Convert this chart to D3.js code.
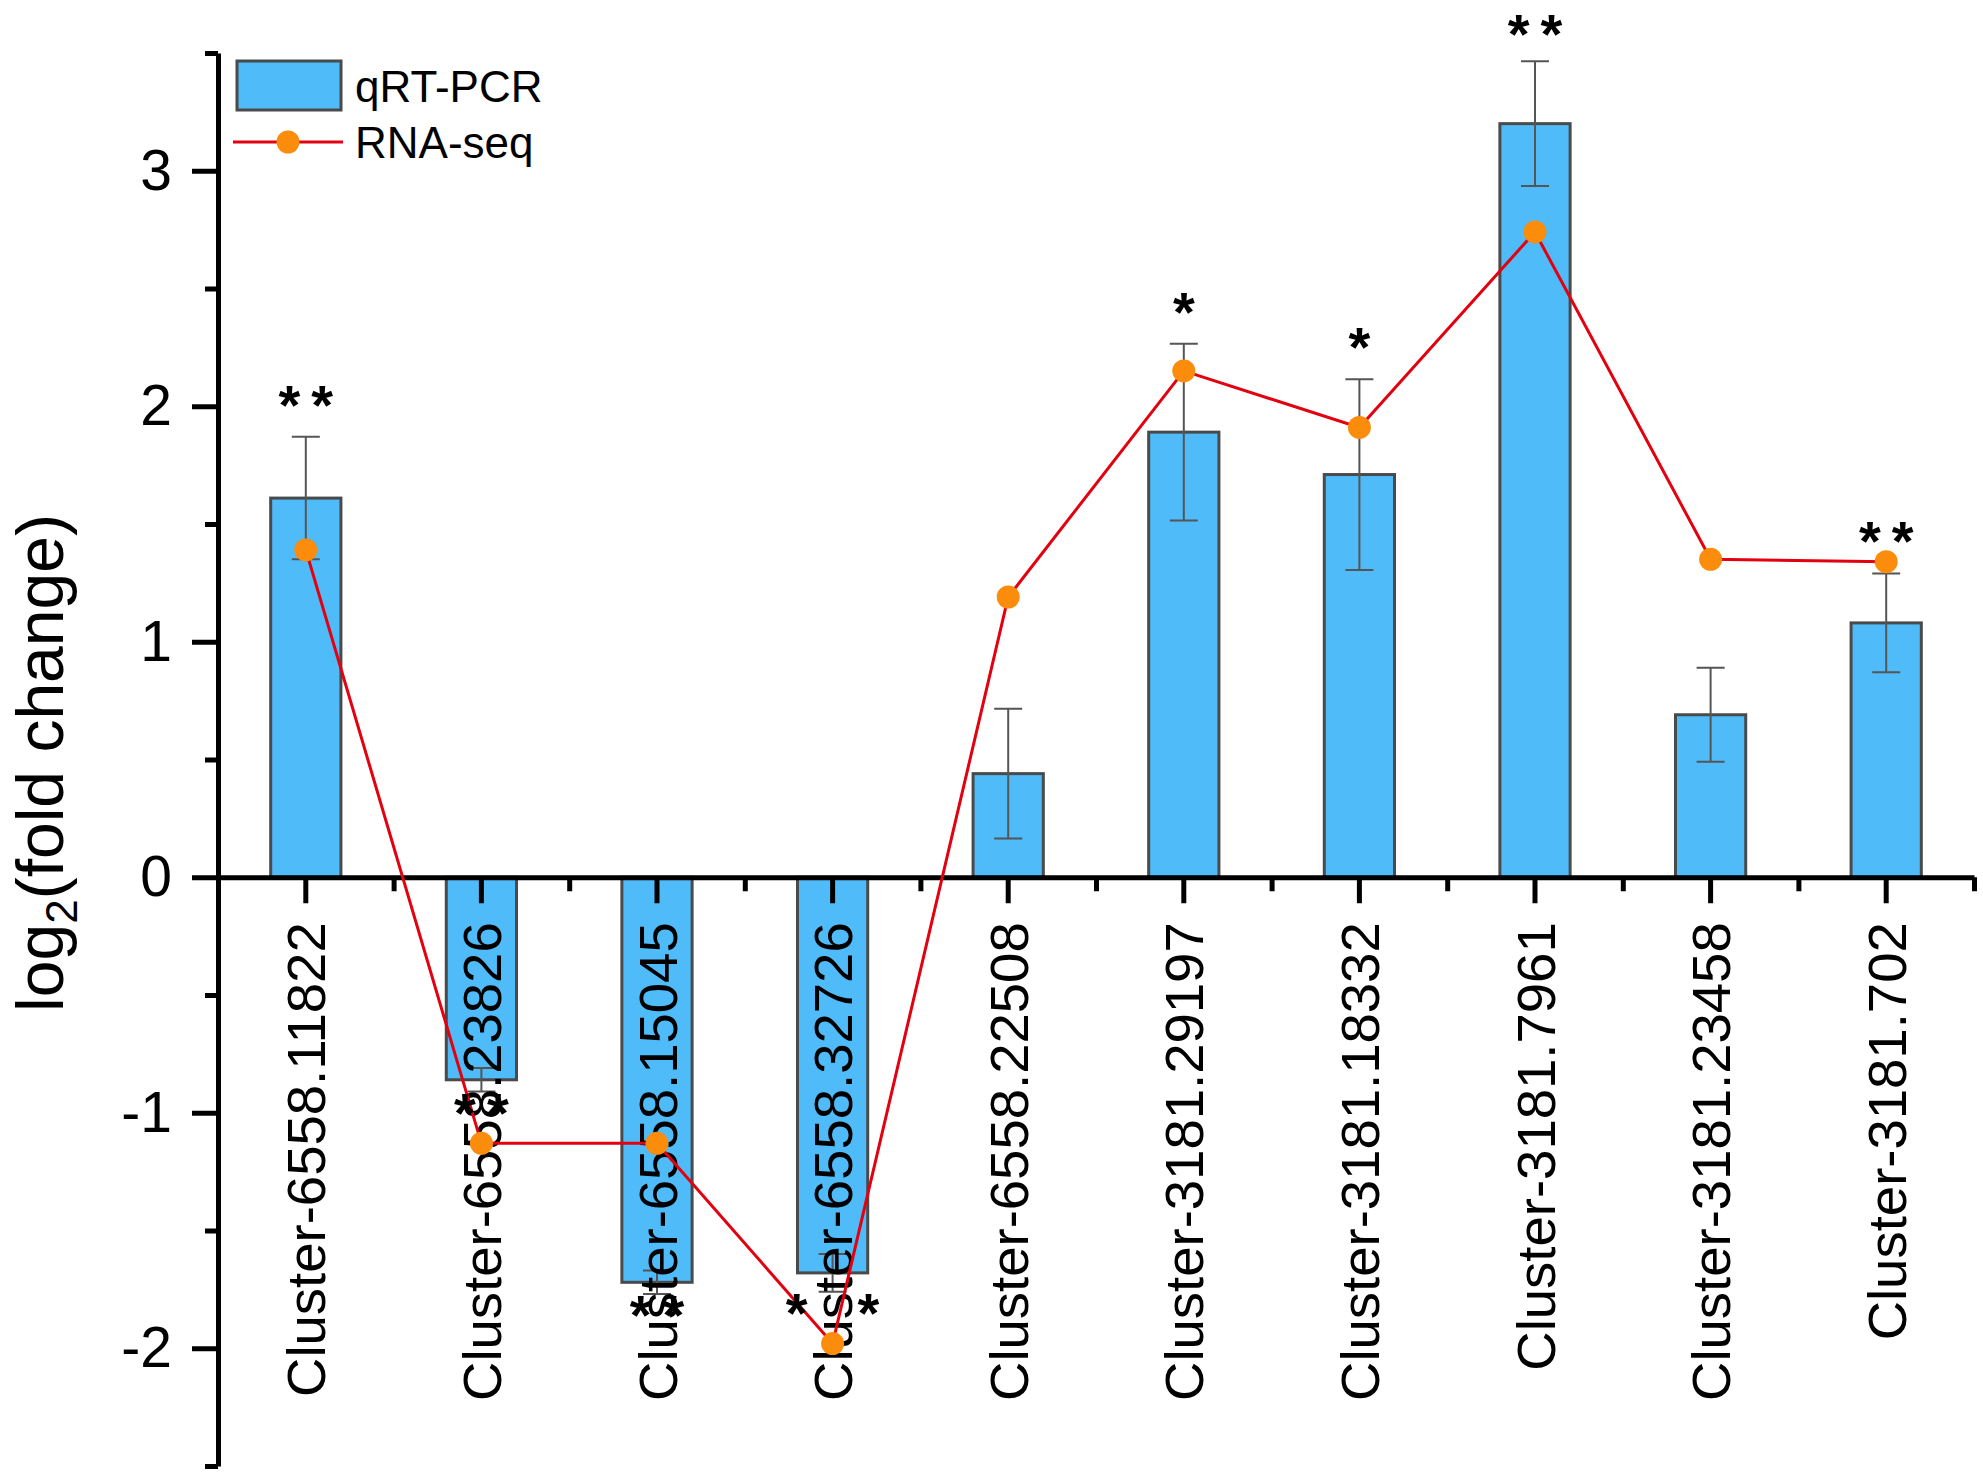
<!DOCTYPE html>
<html>
<head>
<meta charset="utf-8">
<script src="https://cdn.jsdelivr.net/npm/d3@7"></script>
<style>
  body { margin: 0; background: #fff; }
  svg { display: block; font-family: "Liberation Sans", Arial, sans-serif; }
</style>
</head>
<body>
<div id="chart"></div>
<script>
// --- data ---
const genes = [
  "Cluster-6558.11822", "Cluster-6558.23826", "Cluster-6558.15045", "Cluster-6558.32726",
  "Cluster-6558.22508", "Cluster-3181.29197", "Cluster-3181.18332", "Cluster-3181.7961",
  "Cluster-3181.23458", "Cluster-3181.702"
];
const qpcr    = [1.61, -0.86, -1.72, -1.68, 0.44, 1.89, 1.71, 3.20, 0.69, 1.08];
const qpcrErr = [0.26, 0.05, 0.05, 0.08, 0.275, 0.375, 0.405, 0.265, 0.20, 0.21];
const rnaseq  = [1.39, -1.13, -1.13, -1.98, 1.19, 2.15, 1.91, 2.74, 1.35, 1.34];
const sig     = ["**", "**", "**", "*\u2002*", "", "*", "*", "**", "", "**"];
const yTicks  = [-2, -1, 0, 1, 2, 3];
const yMinor  = [-2.5, -1.5, -0.5, 0.5, 1.5, 2.5, 3.5];

const W = 1983, H = 1475;
const barFill = "#4fbbf9", barStroke = "#4a4a4a";
const lineColor = "#e3000f", dotColor = "#fb8c0c";
const fontFam = '"Liberation Sans", Arial, sans-serif';

const svg = d3.select("#chart").append("svg")
  .attr("width", W).attr("height", H);

// --- scales ---
const x = d3.scaleBand().domain(genes).range([218, 1974])
  .paddingInner(0.6).paddingOuter(0.3);
const y = d3.scaleLinear().domain([-2.5, 3.5]).range([1466, 53]);
const xi = d3.scaleLinear().domain([0, genes.length]).range(x.range()); // 境界用
const cx = d => x(d) + x.bandwidth() / 2;

const rows = genes.map((g, i) => ({
  g, v: qpcr[i], e: qpcrErr[i], r: rnaseq[i], s: sig[i]
}));

// --- bars ---
svg.append("g").selectAll("rect")
  .data(rows).enter().append("rect")
  .attr("x", d => x(d.g))
  .attr("width", x.bandwidth())
  .attr("y", d => y(Math.max(0, d.v)))
  .attr("height", d => Math.abs(y(d.v) - y(0)))
  .attr("fill", barFill)
  .attr("stroke", barStroke)
  .attr("stroke-width", 3);

// --- error bars ---
const eb = svg.append("g").attr("stroke", "#555").attr("stroke-width", 2).attr("fill", "none");
eb.selectAll("path.v").data(rows).enter().append("path")
  .attr("d", d => `M${cx(d.g)},${y(d.v + d.e)}V${y(d.v - d.e)}`);
eb.selectAll("path.c").data(rows).enter().append("path")
  .attr("d", d => `M${cx(d.g) - 14},${y(d.v + d.e)}h28M${cx(d.g) - 14},${y(d.v - d.e)}h28`);

// --- axes ---
const axisY = svg.append("g").attr("transform", `translate(${x.range()[0]},0)`)
  .call(d3.axisLeft(y).tickValues(yTicks).tickSize(26).tickSizeOuter(0).tickPadding(20).tickFormat(d => String(d)));
axisY.append("g")
  .call(d3.axisLeft(y).tickValues(yMinor).tickSize(13).tickFormat(""))
  .select(".domain").remove();
axisY.selectAll("text").attr("font-size", 57).attr("font-family", fontFam).attr("fill", "#000");

const axisX = svg.append("g").attr("transform", `translate(0,${y(0)})`)
  .call(d3.axisBottom(x).tickSize(26).tickSizeOuter(0).tickPadding(0));
axisX.append("g")
  .call(d3.axisBottom(xi).tickValues(d3.range(1, genes.length + 1)).tickSize(14).tickFormat(""))
  .select(".domain").remove();
axisX.selectAll(".tick text")
  .attr("transform", "rotate(-90)")
  .attr("x", -45).attr("y", 0).attr("dy", "0.36em")
  .style("text-anchor", "end")
  .attr("font-size", 54.5).attr("font-family", fontFam).attr("fill", "#000");

svg.selectAll(".domain, .tick line").attr("stroke", "#000").attr("stroke-width", 5);

// y label
const yl = svg.append("text")
  .attr("transform", "translate(63,763) rotate(-90)")
  .attr("text-anchor", "middle")
  .attr("font-size", 66).attr("font-family", fontFam);
yl.append("tspan").text("log");
yl.append("tspan").attr("font-size", 44).attr("dy", 14).text("2");
yl.append("tspan").attr("dy", -14).text("(fold change)");

// --- RNA-seq line ---
svg.append("path")
  .datum(rows)
  .attr("fill", "none").attr("stroke", lineColor).attr("stroke-width", 3)
  .attr("d", d3.line().x(d => cx(d.g)).y(d => y(d.r)));
svg.append("g").selectAll("circle")
  .data(rows).enter().append("circle")
  .attr("cx", d => cx(d.g)).attr("cy", d => y(d.r))
  .attr("r", 11.5).attr("fill", dotColor);

// --- significance stars ---
// 上端で切れないように最低位置を確保
svg.append("g").selectAll("text")
  .data(rows.filter(d => d.s)).enter().append("text")
  .attr("x", d => cx(d.g) + 5.5)
  .attr("y", d => d.v >= 0 ? Math.max(53, y(d.v + d.e) - 13) : y(d.v - d.e) + 40)
  .attr("text-anchor", "middle")
  .attr("font-size", 56).attr("font-weight", "bold").attr("font-family", fontFam)
  .attr("letter-spacing", 11)
  .text(d => d.s);

// --- legend ---
const lg = svg.append("g").attr("transform", "translate(0,3)");
lg.append("rect").attr("x", 237).attr("y", 58).attr("width", 104).attr("height", 49)
  .attr("fill", barFill).attr("stroke", barStroke).attr("stroke-width", 3);
lg.append("line").attr("x1", 233).attr("x2", 343).attr("y1", 139).attr("y2", 139)
  .attr("stroke", lineColor).attr("stroke-width", 3);
lg.append("circle").attr("cx", 288).attr("cy", 139).attr("r", 11.5).attr("fill", dotColor);
lg.append("text").attr("x", 355).attr("y", 99).attr("font-size", 44).attr("font-family", fontFam).text("qRT-PCR");
lg.append("text").attr("x", 355).attr("y", 155).attr("font-size", 44).attr("font-family", fontFam).text("RNA-seq");
</script>
</body>
</html>
